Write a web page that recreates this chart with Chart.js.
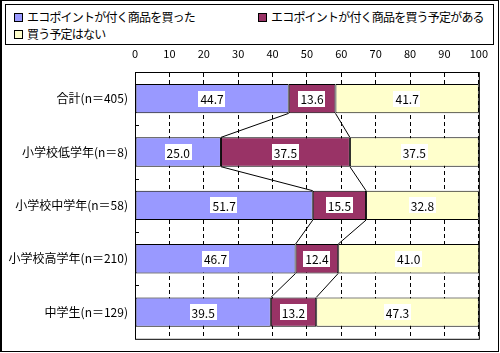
<!DOCTYPE html>
<html>
<head>
<meta charset="utf-8">
<script src="https://cdn.jsdelivr.net/npm/chart.js@4/dist/chart.umd.min.js"></script>
<style>
  body { margin: 0; background: #fff; }
  #moldura {
    position: relative;
    width: 500px;
    height: 353px;
    font-family: "Noto Sans CJK JP", sans-serif;
  }
  #borda {
    position: absolute;
    left: 0; top: 0;
    width: 496px; height: 350px;
    border: 1px solid #000;
    border-left-width: 2px;
  }
  #legenda {
    position: absolute;
    left: 5px; top: 4px;
    width: 487px; height: 39px;
    border: 1px solid #000;
    font-size: 12px;
    letter-spacing: -0.8px;
    color: #000;
  }
  .item {
    position: absolute;
    white-space: nowrap;
    line-height: 14px;
  }
  .caixa {
    display: inline-block;
    width: 7px; height: 7px;
    border: 1px solid #000;
    margin-right: 4px;
    vertical-align: 0px;
  }
  canvas { position: absolute; left: 0; top: 0; }
</style>
</head>
<body>
<div id="moldura">
  <div id="borda"></div>
  <div id="legenda"></div>
  <canvas id="grafico" width="500" height="353"></canvas>
</div>
<script>
var categorias = ["合計(n＝405)", "小学校低学年(n＝8)", "小学校中学年(n＝58)", "小学校高学年(n＝210)", "中学生(n＝129)"];
var nomesSeries = ["エコポイントが付く商品を買った", "エコポイントが付く商品を買う予定がある", "買う予定はない"];
var comprou = [44.7, 25.0, 51.7, 46.7, 39.5];
var vaiComprar = [13.6, 37.5, 15.5, 12.4, 13.2];
var naoVai = [41.7, 37.5, 32.8, 41.0, 47.3];
var cores = ["#9999ff", "#993366", "#ffffcc"];

// ---------- LEGENDA ----------

function montarLegenda() {
  var container = document.getElementById("legenda");
  var posicoes = [[8, 5], [252, 5], [8, 22]];
  for (var i = 0; i < nomesSeries.length; i++) {
    var item = document.createElement("div");
    item.className = "item";
    item.style.left = posicoes[i][0] + "px";
    item.style.top = posicoes[i][1] + "px";
    item.innerHTML = '<span class="caixa" style="background:' + cores[i] + '"></span>' + nomesSeries[i];
    container.appendChild(item);
  }
}

// ---------- PLUGINS ----------

var pluginMoldura = {
  id: "moldura",
  afterDraw: function (chart) {
    var ctx = chart.ctx;
    var area = chart.chartArea;
    var escalaY = chart.scales.y;
    ctx.save();
    ctx.strokeStyle = "#000";
    ctx.lineWidth = 1;
    ctx.strokeRect(area.left + 0.5, area.top + 0.5, area.right - area.left, area.bottom - area.top);
    // pequenas marcas entre as categorias
    ctx.beginPath();
    for (var i = 0; i < categorias.length - 1; i++) {
      var y = Math.round(escalaY.getPixelForValue(i + 0.5)) + 0.5;
      ctx.moveTo(area.left, y);
      ctx.lineTo(area.left + 4, y);
    }
    ctx.stroke();
    ctx.restore();
  }
};

var pluginLinhasSerie = {
  id: "linhasSerie",
  afterDatasetsDraw: function (chart) {
    var ctx = chart.ctx;
    ctx.save();
    ctx.strokeStyle = "#000";
    ctx.lineWidth = 1;
    ctx.beginPath();
    for (var d = 0; d < 2; d++) {
      var barras = chart.getDatasetMeta(d).data;
      for (var i = 0; i < barras.length - 1; i++) {
        var a = barras[i];
        var b = barras[i + 1];
        ctx.moveTo(a.x, a.y + a.height / 2);
        ctx.lineTo(b.x, b.y - b.height / 2);
      }
    }
    ctx.stroke();
    ctx.restore();
  }
};

var pluginRotulos = {
  id: "rotulos",
  afterDatasetsDraw: function (chart) {
    var ctx = chart.ctx;
    ctx.save();
    ctx.font = "12px 'Noto Sans CJK JP', sans-serif";
    ctx.textAlign = "center";
    ctx.textBaseline = "middle";
    chart.data.datasets.forEach(function (ds, d) {
      var barras = chart.getDatasetMeta(d).data;
      barras.forEach(function (barra, i) {
        var texto = ds.data[i].toFixed(1);
        var cx = (barra.x + barra.base) / 2;
        var cy = barra.y;
        var w = ctx.measureText(texto).width + 4;
        ctx.fillStyle = "#fff";
        ctx.fillRect(Math.round(cx - w / 2), Math.round(cy - 8), Math.round(w), 16);
        ctx.fillStyle = "#000";
        ctx.fillText(texto, cx, cy + 1);
      });
    });
    ctx.restore();
  }
};

// ---------- GRÁFICO ----------

function criarGrafico() {
  Chart.defaults.font.family = "'Noto Sans CJK JP', sans-serif";
  Chart.defaults.color = "#000";

  var conjuntos = [comprou, vaiComprar, naoVai].map(function (valores, i) {
    return {
      label: nomesSeries[i],
      data: valores,
      backgroundColor: cores[i],
      borderColor: "#000",
      borderWidth: 1,
      borderSkipped: false,
      barPercentage: 0.55,
      categoryPercentage: 1
    };
  });

  new Chart(document.getElementById("grafico"), {
    type: "bar",
    data: { labels: categorias, datasets: conjuntos },
    options: {
      indexAxis: "y",
      responsive: false,
      animation: false,
      devicePixelRatio: 1,
      layout: { padding: { left: 0, right: 16, top: 0, bottom: 5 } },
      plugins: {
        legend: { display: false },
        tooltip: { enabled: false }
      },
      scales: {
        x: {
          position: "top",
          stacked: true,
          min: 0,
          max: 100,
          afterFit: function (escala) { escala.height = 72; },
          ticks: { stepSize: 10, padding: 12, font: { size: 11 } },
          grid: { color: "#000", drawTicks: false },
          border: { display: true, color: "#000", dash: [4, 3] }
        },
        y: {
          stacked: true,
          afterFit: function (escala) { escala.width = 135; },
          ticks: { padding: 7, font: { size: 12 } },
          grid: { display: false, drawTicks: false },
          border: { display: true, color: "#000" }
        }
      }
    },
    plugins: [pluginLinhasSerie, pluginRotulos, pluginMoldura]
  });
}

montarLegenda();
criarGrafico();
</script>
</body>
</html>
